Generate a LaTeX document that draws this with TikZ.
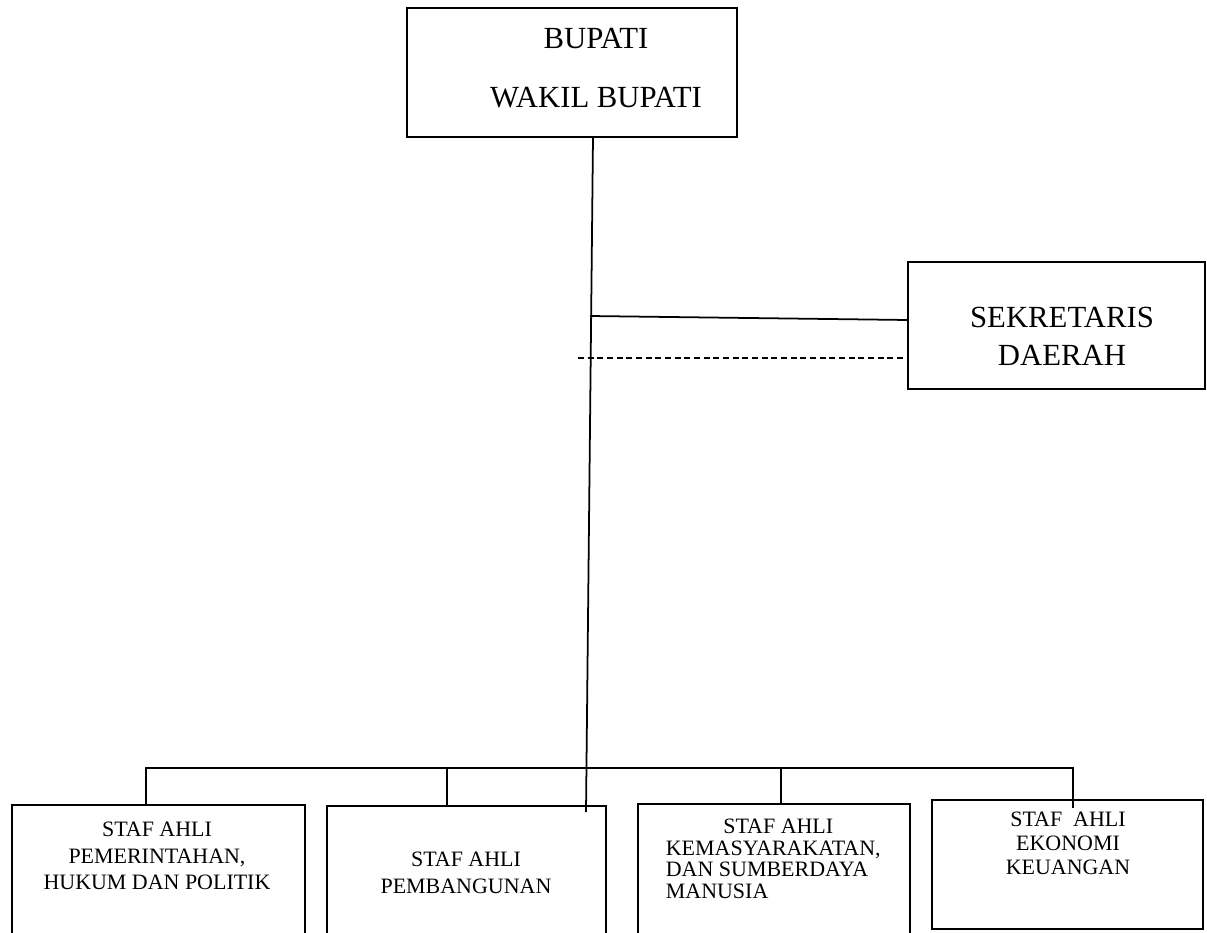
\documentclass[tikz,border=0pt]{standalone}
\usepackage{fontspec}
\setmainfont{Liberation Serif}
\begin{document}
\begin{tikzpicture}[x=0.02cm,y=-0.02cm,line width=1pt,
    box/.style={draw,inner sep=0pt},
    big/.style={font=\fontsize{17.5}{34}\selectfont,align=center},
    small/.style={font=\fontsize{12.5}{15.2}\selectfont,align=center}]
    \clip (0,0) rectangle (1207,933);
    % boxes
    \node[box,minimum width=6.6cm,minimum height=2.58cm] (b) at (572,72.5) {};
    \node[box,minimum width=5.94cm,minimum height=2.54cm] (sk) at (1056.5,325.5) {};
    \node[box,minimum width=5.86cm,minimum height=2.8cm] (p1) at (158.5,875) {};
    \node[box,minimum width=5.58cm,minimum height=2.78cm] (p2) at (466.5,875.5) {};
    \node[box,minimum width=5.44cm,minimum height=2.82cm] (p3) at (774,874.5) {};
    \node[box,minimum width=5.42cm,minimum height=2.58cm] (p4) at (1067.5,864.5) {};
    % texts
    \node[big] (tb) at (596,68) {BUPATI\\WAKIL BUPATI};
    \node[big,font=\fontsize{17.5}{21.5}\selectfont] (tsk) at (1062,336) {SEKRETARIS\\DAERAH};
    \node[small] (t1) at (157,856) {STAF AHLI\\PEMERINTAHAN,\\HUKUM DAN POLITIK};
    \node[small] (t2) at (466,873) {STAF AHLI\\PEMBANGUNAN};
    \node[small,font=\fontsize{12.5}{12.3}\selectfont,align=left,anchor=north west,inner sep=0pt] (t3) at (665,818)
      {\hspace*{1.15cm}STAF AHLI\\KEMASYARAKATAN,\\DAN SUMBERDAYA\\MANUSIA};
    \node[small,font=\fontsize{12.5}{13.6}\selectfont] (t4) at (1068,843) {STAF\ \ AHLI\\EKONOMI\\KEUANGAN};
    % connectors
    \coordinate (t) at (593,137);
    \coordinate (m) at (586,812);
    \coordinate (s1) at (590,316);
    \coordinate (s2) at (908,320);
    \coordinate (h1) at (578,358);
    \coordinate (h2) at (908,358);
    \coordinate (bl) at (146,768);
    \coordinate (br) at (1073,768);
    \coordinate (d1) at (146,805);
    \coordinate (d2) at (447,806);
    \coordinate (d3) at (781,804);
    \coordinate (d4) at (1073,808);
    \draw (t) -- (m);
    \draw (s1) -- (s2);
    \draw [dash pattern=on 3.5pt off 2pt] (h1) -- (h2);
    \draw (d1) -- (bl) -- (br) -- (d4);
    \draw (d2) -- (d2 |- bl);
    \draw (d3) -- (d3 |- bl);
\end{tikzpicture}
\end{document}
